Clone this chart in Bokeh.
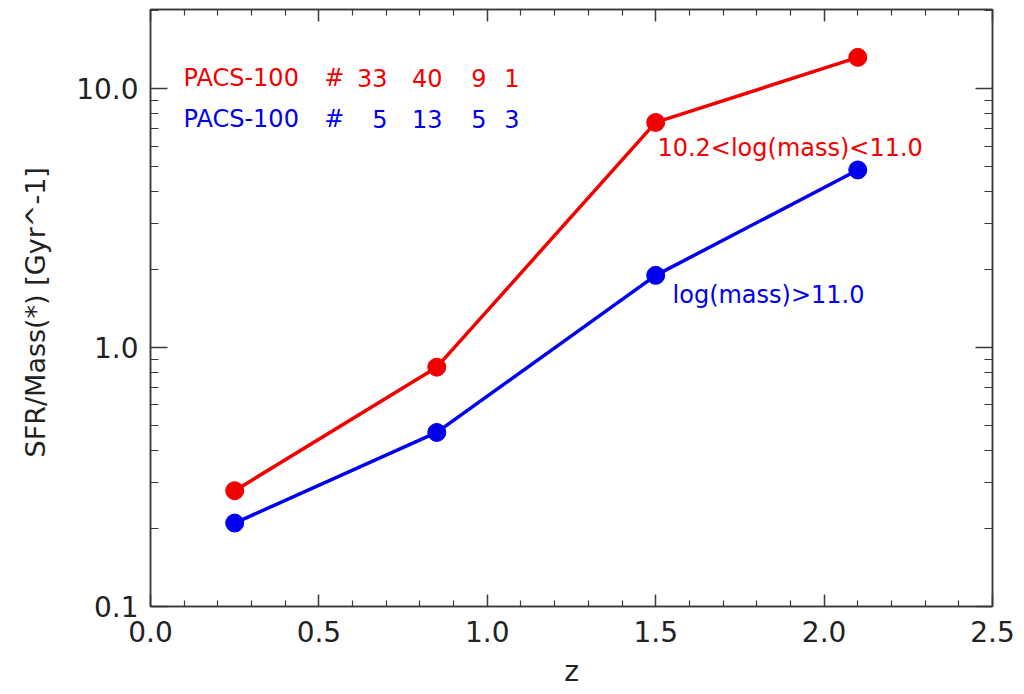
from bokeh.plotting import figure
from bokeh.models import (FixedTicker, PrintfTickFormatter, CustomJSTickFormatter,
                          LogAxis, LinearAxis, Range1d)
from bokeh.core.properties import value
from bokeh.embed import file_html
from bokeh.resources import INLINE

# data
z = [0.25, 0.85, 1.5, 2.1]
ssfr_mid = [0.28, 0.84, 7.4, 13.2]     # 10.2<log(mass)<11.0
ssfr_high = [0.21, 0.47, 1.9, 4.85]    # log(mass)>11.0
counts_mid = ["33", "40", "9", "1"]
counts_high = ["5", "13", "5", "3"]
x_ticks = [0.0, 0.5, 1.0, 1.5, 2.0, 2.5]
x_minor = [i / 10 for i in range(0, 26) if i % 5 != 0]
y_ticks = [0.1, 1.0, 10.0]
y_minor = [m * d for d in (0.1, 1.0, 10.0) for m in range(2, 10)]

RED = "#f20000"
BLUE = "#0000ee"
AX = "#3a3a3a"
FONT = "DejaVu Sans"

p = figure(width=1024, height=694, y_axis_type="log",
           x_range=Range1d(0.0, 2.5), y_range=Range1d(0.1, 20.2),
           output_backend="svg", toolbar_location=None,
           min_border_left=150, min_border_right=32, min_border_top=9, min_border_bottom=88)
p.xgrid.visible = False
p.ygrid.visible = False
p.outline_line_color = AX
p.outline_line_width = 1.5
p.background_fill_color = "white"
p.border_fill_color = "white"

def style_axis(ax, major_in, minor_in):
    ax.axis_line_color = AX
    ax.axis_line_width = 1.5
    ax.major_tick_line_color = AX
    ax.major_tick_line_width = 1.5
    ax.minor_tick_line_color = AX
    ax.minor_tick_line_width = 1.2
    ax.major_tick_in = major_in
    ax.major_tick_out = 0
    ax.minor_tick_in = minor_in
    ax.minor_tick_out = 0
    ax.major_label_text_font = FONT
    ax.major_label_text_color = "#222222"
    ax.major_label_text_font_size = "28px"

xt = FixedTicker(ticks=x_ticks, minor_ticks=x_minor)
yt = FixedTicker(ticks=y_ticks, minor_ticks=y_minor)

xa = p.xaxis[0]
xa.ticker = xt
xa.formatter = PrintfTickFormatter(format="%.1f")
style_axis(xa, 12, 6)
xa.major_label_standoff = 14
xa.axis_label = "z"
xa.axis_label_text_font = FONT
xa.axis_label_text_font_size = "28px"
xa.axis_label_text_font_style = "normal"
xa.axis_label_text_color = "#222222"
xa.axis_label_standoff = 10

ya = p.yaxis[0]
ya.ticker = yt
ya.formatter = PrintfTickFormatter(format="%.1f")
style_axis(ya, 17, 8)
ya.major_label_standoff = 12
ya.axis_label = "SFR/Mass(*)  [Gyr^-1]"
ya.axis_label_text_font = FONT
ya.axis_label_text_font_size = "27px"
ya.axis_label_text_font_style = "normal"
ya.axis_label_text_color = "#222222"
ya.axis_label_standoff = 22

blank = CustomJSTickFormatter(code="return '';")
top = LinearAxis(ticker=FixedTicker(ticks=x_ticks, minor_ticks=x_minor), formatter=blank)
style_axis(top, 12, 6)
top.major_label_standoff = 0
p.add_layout(top, "above")
right = LogAxis(ticker=FixedTicker(ticks=y_ticks, minor_ticks=y_minor), formatter=blank)
style_axis(right, 17, 8)
right.major_label_standoff = 0
p.add_layout(right, "right")

# series
for ys, col in ((ssfr_mid, RED), (ssfr_high, BLUE)):
    p.line(z, ys, line_color=col, line_width=3.5)
    p.scatter(z, ys, size=18, fill_color=col, line_color=col)

# annotations
FS = "24px"
count_cols = [0.704, 0.867, 0.998, 1.096]
for row_y, counts, col in ((11.0, counts_mid, RED), (7.66, counts_high, BLUE)):
    p.text([0.098], [row_y], text=["PACS-100"], text_color=col, text_font=value(FONT),
           text_font_size=FS, text_baseline="middle", text_align="left")
    p.text([0.546], [row_y], text=["#"], text_color=col, text_font=value(FONT),
           text_font_size=FS, text_baseline="middle", text_align="center")
    p.text(count_cols, [row_y] * 4, text=counts, text_color=col, text_font=value(FONT),
           text_font_size=FS, text_baseline="middle", text_align="right")

p.text([1.505], [5.92], text=["10.2<log(mass)<11.0"], text_color=RED, text_font=value(FONT),
       text_font_size=FS, text_baseline="middle", text_align="left")
p.text([1.55], [1.59], text=["log(mass)>11.0"], text_color=BLUE, text_font=value(FONT),
       text_font_size=FS, text_baseline="middle", text_align="left")

open("out.html", "w").write(file_html(p, INLINE))
